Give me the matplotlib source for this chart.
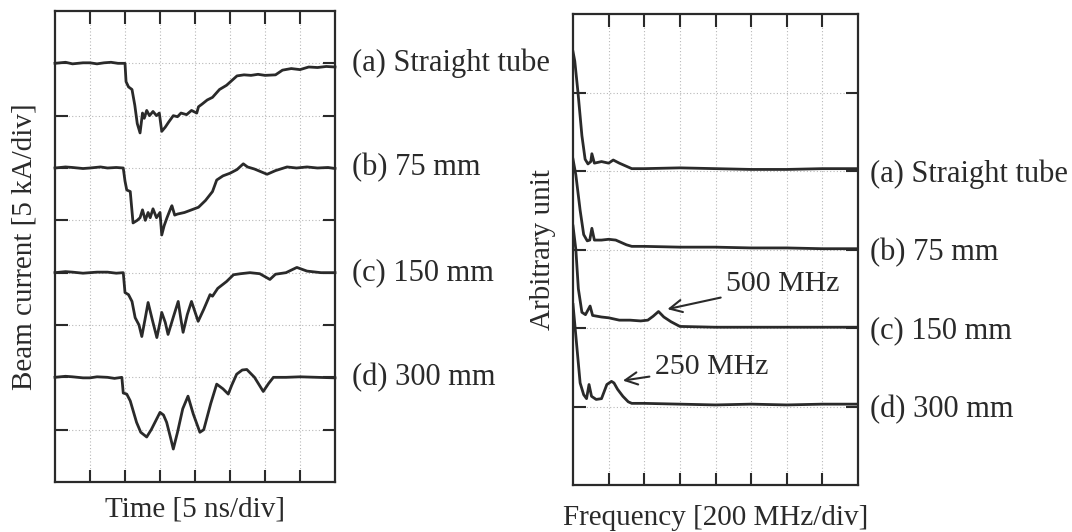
import numpy as np
import matplotlib.pyplot as plt

plt.rcParams['font.family'] = ['Liberation Serif', 'DejaVu Serif']

# Beam current traces, time in divisions, value in divisions from own baseline
t_a = [0, 0.3, 0.5, 0.8, 1.0, 1.2, 1.4, 1.6, 1.8, 2.0, 2.03, 2.1, 2.2, 2.28, 2.35, 2.43, 2.5, 2.55,
       2.62, 2.7, 2.8, 2.9, 2.98, 3.05, 3.15, 3.25, 3.38, 3.5, 3.6, 3.76, 3.9, 4.05, 4.1, 4.2, 4.35,
       4.5, 4.7, 4.9, 5.05, 5.2, 5.4, 5.6, 5.8, 6.0, 6.3, 6.5, 6.75, 7.0, 7.25, 7.5, 7.75, 8.0]
v_a = [0, 0.02, -0.01, 0.01, 0.01, -0.01, 0.01, 0.02, 0, 0, -0.35, -0.45, -0.5, -0.8, -1.15, -1.33,
       -0.95, -1.05, -0.9, -1.0, -0.92, -1.0, -0.95, -1.3, -1.22, -1.12, -1.0, -1.02, -0.95, -0.98,
       -0.9, -0.95, -0.83, -0.78, -0.7, -0.65, -0.5, -0.42, -0.33, -0.24, -0.22, -0.23, -0.21,
       -0.23, -0.22, -0.13, -0.1, -0.12, -0.07, -0.08, -0.06, -0.07]

t_b = [0, 0.3, 0.5, 0.8, 1.0, 1.3, 1.5, 1.75, 1.95, 2.0, 2.05, 2.15, 2.23, 2.35, 2.43, 2.5, 2.58,
       2.66, 2.72, 2.8, 2.9, 3.0, 3.05, 3.12, 3.2, 3.3, 3.34, 3.42, 3.5, 3.7, 3.9, 4.1, 4.3, 4.5,
       4.62, 4.8, 5.0, 5.2, 5.38, 5.5, 5.7, 6.06, 6.3, 6.63, 6.9, 7.2, 7.5, 7.8, 8.0]
v_b = [0, 0.02, 0.01, -0.01, 0, 0.02, 0.0, 0.01, 0, -0.25, -0.42, -0.45, -1.05, -1.0, -0.95, -0.8,
       -1.0, -0.85, -0.95, -0.78, -0.95, -0.85, -1.28, -1.1, -0.95, -0.78, -0.72, -0.9, -0.88, -0.85,
       -0.8, -0.75, -0.62, -0.45, -0.23, -0.15, -0.1, -0.03, 0.08, 0.02, -0.02, -0.12, -0.05, 0.02,
       0.0, 0.02, 0.0, 0.01, -0.01]

t_c = [0, 0.3, 0.5, 0.8, 1, 1.2, 1.5, 1.75, 1.95, 2.0, 2.1, 2.2, 2.29, 2.4, 2.48, 2.57, 2.66, 2.78,
       2.91, 3.0, 3.05, 3.15, 3.23, 3.38, 3.52, 3.6, 3.66, 3.78, 3.9, 4.0, 4.09, 4.25, 4.43, 4.5,
       4.65, 4.9, 5.1, 5.3, 5.57, 5.85, 6.14, 6.3, 6.6, 6.91, 7.2, 7.6, 8.0]
v_c = [0, 0.02, 0.01, -0.01, 0, 0.01, 0.01, -0.01, 0, -0.38, -0.42, -0.55, -0.86, -1.0, -1.22, -0.9,
       -0.57, -0.9, -1.24, -0.95, -0.76, -0.95, -1.18, -0.85, -0.55, -0.9, -1.14, -0.8, -0.55, -0.75,
       -0.93, -0.7, -0.42, -0.45, -0.3, -0.17, -0.04, -0.02, 0.0, -0.02, -0.13, -0.03, 0.0, 0.1,
       0.03, 0.0, 0.0]

t_d = [0, 0.3, 0.5, 0.8, 1, 1.2, 1.5, 1.7, 1.91, 1.95, 2.05, 2.15, 2.33, 2.45, 2.62, 2.75, 3.0, 3.1,
       3.19, 3.3, 3.38, 3.5, 3.65, 3.8, 3.95, 4.14, 4.25, 4.45, 4.62, 4.8, 4.95, 5.05, 5.19, 5.35,
       5.48, 5.7, 5.95, 6.1, 6.24, 6.6, 7.0, 7.5, 8.0]
v_d = [0, 0.02, 0.01, -0.01, -0.01, 0.01, 0.0, -0.02, 0, -0.3, -0.32, -0.45, -0.86, -1.05, -1.14,
       -1.0, -0.67, -0.72, -0.86, -1.15, -1.37, -1.05, -0.6, -0.36, -0.7, -1.05, -1.0, -0.5, -0.13,
       -0.22, -0.32, -0.15, 0.06, 0.14, 0.15, 0.0, -0.27, -0.12, 0.0, 0.0, 0.01, 0.0, -0.01]

# Spectra, frequency in divisions (200 MHz/div)
f_a = [0.0, 0.05, 0.14, 0.25, 0.34, 0.42, 0.5, 0.53, 0.6, 0.8, 1.0, 1.13, 1.3, 1.5, 1.65, 2.0, 3.0,
       4.0, 5.0, 6.0, 7.0, 8.0]
s_a = [1.52, 1.4, 1.0, 0.45, 0.15, 0.09, 0.12, 0.22, 0.1, 0.12, 0.1, 0.14, 0.1, 0.06, 0.03, 0.03,
       0.04, 0.03, 0.02, 0.02, 0.03, 0.03]

f_b = [0.0, 0.08, 0.2, 0.3, 0.4, 0.47, 0.53, 0.6, 0.8, 1.0, 1.2, 1.5, 1.65, 2.0, 3.0, 4.0, 5.0, 6.0,
       7.0, 8.0]
s_b = [1.15, 0.95, 0.5, 0.19, 0.11, 0.12, 0.27, 0.12, 0.12, 0.13, 0.12, 0.06, 0.04, 0.04, 0.03,
       0.03, 0.02, 0.02, 0.01, 0.01]

f_c = [0.0, 0.08, 0.15, 0.25, 0.35, 0.48, 0.55, 0.8, 1.0, 1.3, 1.6, 1.9, 2.1, 2.25, 2.4, 2.55, 2.75,
       3.0, 4.0, 5.0, 6.0, 8.0]
s_c = [1.3, 1.0, 0.5, 0.2, 0.17, 0.28, 0.16, 0.14, 0.13, 0.1, 0.1, 0.09, 0.1, 0.15, 0.21, 0.14, 0.08,
       0.02, 0.01, 0.01, 0.01, 0.01]

f_d = [0.0, 0.08, 0.2, 0.3, 0.38, 0.45, 0.52, 0.65, 0.8, 0.95, 1.08, 1.15, 1.25, 1.4, 1.55, 1.65,
       2.0, 3.0, 4.0, 5.0, 6.0, 7.0, 8.0]
s_d = [1.3, 0.9, 0.3, 0.15, 0.1, 0.28, 0.13, 0.09, 0.1, 0.28, 0.32, 0.3, 0.22, 0.13, 0.06, 0.04,
       0.04, 0.03, 0.02, 0.03, 0.02, 0.03, 0.03]

labels = ['(a) Straight tube', '(b) 75 mm', '(c) 150 mm', '(d) 300 mm']
left_base = [8, 6, 4, 2]
right_base = [4, 3, 2, 1]

ink = '#2a2a2a'
fig = plt.figure(figsize=(10.72, 5.32), dpi=100)
ax1 = fig.add_axes([55 / 1072, 50 / 532, 280 / 1072, 471 / 532])
ax2 = fig.add_axes([573 / 1072, 47 / 532, 285 / 1072, 471 / 532])


def style(ax, nx, ny):
    ax.set_xlim(0, nx)
    ax.set_ylim(0, ny)
    ax.set_xticks(range(1, nx))
    ax.set_yticks(range(1, ny))
    ax.set_xticklabels([])
    ax.set_yticklabels([])
    ax.tick_params(direction='in', length=9, width=1.5, color=ink,
                   top=True, right=True, bottom=True, left=True)
    ax.grid(True, color='#b8b8b8', linestyle=(0, (1, 2)), linewidth=0.8)
    for s in ax.spines.values():
        s.set_linewidth(1.6)
        s.set_color(ink)


style(ax1, 8, 9)
style(ax2, 8, 6)

for t, v, b in zip([t_a, t_b, t_c, t_d], [v_a, v_b, v_c, v_d], left_base):
    ax1.plot(t, np.array(v) + b, color=ink, lw=2, clip_on=False)
for f, s, b in zip([f_a, f_b, f_c, f_d], [s_a, s_b, s_c, s_d], right_base):
    ax2.plot(f, np.array(s) + b, color=ink, lw=2)

for lab, b in zip(labels, left_base):
    ax1.text(8.5, b, lab, fontsize=22, va='center', ha='left', color=ink)
for lab, b in zip(labels, right_base):
    ax2.text(8.35, b - 0.04, lab, fontsize=22, va='center', ha='left', color=ink)

ax1.set_xlabel('Time [5 ns/div]', fontsize=21, color=ink, labelpad=7)
ax1.set_ylabel('Beam current [5 kA/div]', fontsize=21, color=ink, labelpad=9)
ax2.set_xlabel('Frequency [200 MHz/div]', fontsize=21, color=ink, labelpad=11)
ax2.set_ylabel('Arbitrary unit', fontsize=21, color=ink, labelpad=9)

ax2.annotate('500 MHz', xy=(2.65, 2.24), xytext=(4.3, 2.56), fontsize=21.5, color=ink,
             va='center', ha='left',
             arrowprops=dict(arrowstyle='->', color=ink, lw=1.5, shrinkA=2, shrinkB=0,
                             mutation_scale=22))
ax2.annotate('250 MHz', xy=(1.4, 1.33), xytext=(2.3, 1.5), fontsize=21.5, color=ink,
             va='center', ha='left',
             arrowprops=dict(arrowstyle='->', color=ink, lw=1.5, shrinkA=2, shrinkB=0,
                             mutation_scale=22))

fig.savefig('out.png', dpi=100)
